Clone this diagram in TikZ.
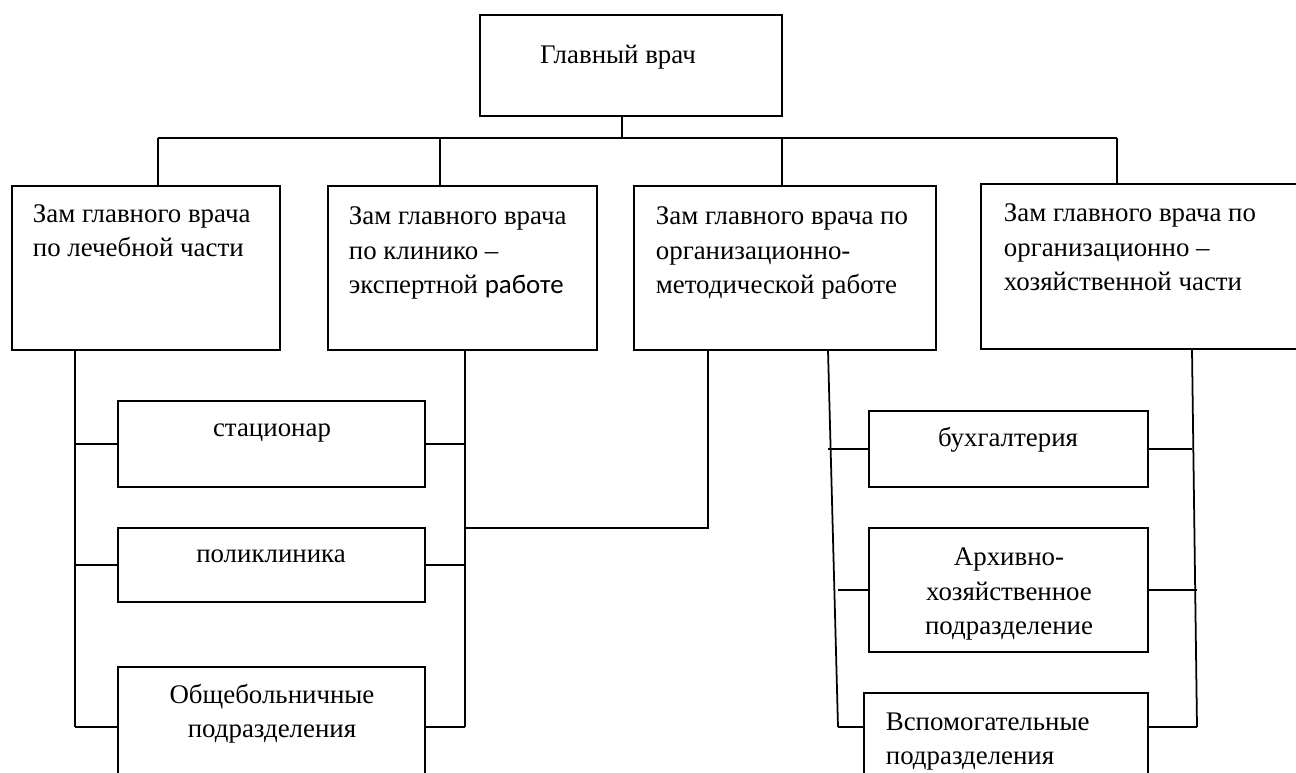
\documentclass[tikz,border=0pt]{standalone}
\usepackage{fontspec}
\setmainfont{Liberation Serif}
\newfontfamily\calibrifont{Carlito}
\usetikzlibrary{fit}
\tikzset{
  box/.style={draw, line width=1.4pt, inner sep=0pt},
  txt/.style={inner sep=0pt, font=\fontsize{15.3}{19.8}\selectfont},
}
\begin{document}
\begin{tikzpicture}[x=0.02cm, y=-0.02cm, line width=1pt]
  \useasboundingbox (0,0) rectangle (1296,773);
  \clip (0,0) rectangle (1296,773);
  % boxes
  \node[box, fit={(480,15) (782,116)}] (main) {};
  \node[box, fit={(12,186) (280,350)}] (zamLech) {};
  \node[box, fit={(328,186) (597,350)}] (zamExp) {};
  \node[box, fit={(634,186) (936,350)}] (zamOrg) {};
  \node[box, fit={(981,184) (1320,349)}] (zamHoz) {};
  \node[box, fit={(118,401) (425,487)}] (stac) {};
  \node[box, fit={(118,528) (425,602)}] (poli) {};
  \node[box, fit={(118,667) (425,800)}] (obsh) {};
  \node[box, fit={(869,411) (1148,487)}] (buh) {};
  \node[box, fit={(869,528) (1148,652)}] (arh) {};
  \node[box, fit={(864,693) (1148,800)}] (vsp) {};
  % texts (base = last line)
  \node[txt, anchor=base] (tMain) at (618,64) {Главный врач};
  \node[txt, anchor=base west, align=left] (tLech) at (32,257)
    {Зам главного врача\\по лечебной части};
  \node[txt, anchor=base west, align=left] (tExp) at (348,294)
    {Зам главного врача\\по клинико –\\экспертной {\calibrifont работе}};
  \node[txt, anchor=base west, align=left] (tOrg) at (655,294)
    {Зам главного врача по\\организационно-\\методической работе};
  \node[txt, anchor=base west, align=left] (tHoz) at (1003,291)
    {Зам главного врача по\\организационно –\\хозяйственной части};
  \node[txt, anchor=base] (tStac) at (272,437) {стационар};
  \node[txt, anchor=base] (tPoli) at (271,563) {поликлиника};
  \node[txt, anchor=base, align=center] (tObsh) at (272,738)
    {Общебольничные\\подразделения};
  \node[txt, anchor=base] (tBuh) at (1008,447) {бухгалтерия};
  \node[txt, anchor=base, align=center] (tArh) at (1009,635)
    {Архивно-\\хозяйственное\\подразделение};
  \node[txt, anchor=base west, align=left] (tVsp) at (885,765)
    {Вспомогательные\\подразделения};
  % junctions
  \coordinate (jA) at (158,138);
  \coordinate (jB) at (440,138);
  \coordinate (jM) at (622,138);
  \coordinate (jC) at (782,138);
  \coordinate (jD) at (1117,138);
  \coordinate (lBot) at (75,727);
  \coordinate (mBot) at (465,727);
  \coordinate (kTurn) at (708,528);
  \coordinate (rlTop) at (828,350);
  \coordinate (rlBot) at (838,727);
  \coordinate (rrTop) at (1192,349);
  \coordinate (rrBot) at (1197,727);
  \begin{scope}[-]
    \draw (jA) to (jD);
    \draw (main.south -| jM) to (jM);
    \draw (jA) to (jA |- zamLech.north);
    \draw (jB) to (jB |- zamExp.north);
    \draw (jC) to (jC |- zamOrg.north);
    \draw (jD) to (jD |- zamHoz.north);
    \draw (zamLech.south -| lBot) to (lBot);
    \draw (stac.west) to (stac.west -| lBot);
    \draw (poli.west) to (poli.west -| lBot);
    \draw (lBot) to (lBot -| obsh.west);
    \draw (zamExp.south -| mBot) to (mBot);
    \draw (stac.east) to (stac.east -| mBot);
    \draw (poli.east) to (poli.east -| mBot);
    \draw (mBot) to (mBot -| obsh.east);
    \draw (kTurn -| mBot) to (kTurn) to (kTurn |- zamOrg.south);
    \draw (rlTop) to (rlBot);
    \draw (buh.west) to (buh.west -| rlTop);
    \draw (arh.west) to (arh.west -| rlBot);
    \draw (rlBot) to (rlBot -| vsp.west);
    \draw (rrTop) to (rrBot);
    \draw (buh.east) to (buh.east -| rrTop);
    \draw (arh.east) to (arh.east -| rrBot);
    \draw (rrBot) to (rrBot -| vsp.east);
  \end{scope}
\end{tikzpicture}
\end{document}
